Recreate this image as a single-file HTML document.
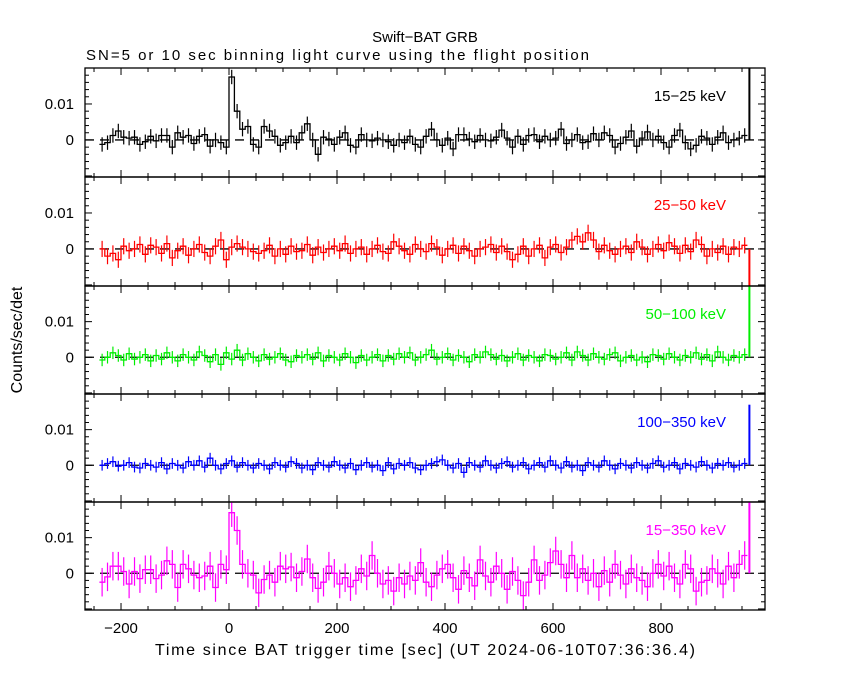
<!DOCTYPE html>
<html><head><meta charset="utf-8"><style>
body{margin:0;background:#fff;}
svg{display:block;font-family:"Liberation Sans",sans-serif;}
</style></head><body>
<svg id="c" width="850" height="680"></svg>
<script>
const tStart=-240, binW=10;
const unit=2.5e-4;
const xTicks=[-200,0,200,400,600,800];
const yTicks=[0,0.01];
const bandLabels=["15−25 keV","25−50 keV","50−100 keV","100−350 keV","15−350 keV"];
const bandColors=["#000000","#ff0000","#00ee00","#0000ff","#ff00ff"];
const rate1=[-5,-3,5,10,3,2,3,-5,-2,4,-1,5,5,-8,8,3,5,-4,4,6,-7,0,-3,-8,70,32,12,15,-5,-8,15,10,4,-6,-3,4,-3,8,18,0,-16,3,1,-5,3,8,-6,-8,6,0,-1,2,0,-2,-6,0,-3,4,-5,-8,4,12,0,-6,2,-10,6,6,1,-2,5,0,-1,3,11,2,-8,4,-5,5,6,-2,4,0,2,12,-4,0,6,-3,-2,7,0,8,5,-8,-4,3,10,-7,2,9,0,4,-3,-8,5,11,-3,-10,-6,4,2,-5,3,8,-3,0,2,5];
const rate2=[0,-8,-5,-12,3,-2,0,5,-6,4,2,-5,6,-10,-2,3,-7,0,5,-4,-8,3,10,-12,2,6,2,0,-3,-5,-2,4,-8,0,-6,3,-3,-2,5,-7,2,-4,0,3,-2,6,-5,0,2,-6,0,4,-3,-5,8,3,-2,-6,5,0,-3,6,2,-7,0,4,-5,3,-2,-8,0,2,5,-4,3,-3,-12,-6,3,-8,0,4,-10,2,5,-4,2,10,14,8,18,10,-3,4,-2,-6,0,3,-4,8,2,-6,0,5,-2,7,3,-5,4,-3,10,5,-8,0,-4,3,-6,2,0,4];
const rate3=[-3,0,5,2,-3,4,-2,0,3,-4,2,-2,5,0,-4,3,0,-3,6,2,-5,3,-8,5,-2,8,-3,4,0,-4,3,-2,0,4,-3,-5,2,0,3,-2,5,-4,2,0,-3,4,0,-6,2,-3,0,3,-4,2,-2,4,0,5,-3,0,3,8,-2,0,4,-3,2,0,-5,3,0,6,3,-2,2,-4,0,4,-3,2,0,-4,3,2,-2,0,5,-3,6,2,-3,4,0,-2,3,5,-4,0,2,-3,0,-5,3,2,-2,4,0,-3,2,0,5,-2,3,-4,6,0,-3,2,0,3];
const rate4=[0,2,4,-1,0,3,-2,-3,2,0,-2,3,-4,2,0,-3,4,0,5,-2,8,0,-4,2,5,-2,3,0,-3,2,0,-4,3,0,-2,4,2,-3,0,-5,3,0,-2,4,0,-3,2,-5,0,3,-2,0,-6,3,-4,2,0,3,-3,-5,0,2,4,6,0,-3,2,-8,3,0,-2,5,0,-3,2,4,-2,0,3,-4,0,3,-2,5,0,-3,4,-2,0,-6,3,0,-2,5,0,-4,2,0,-3,3,0,-3,2,5,-2,0,3,-4,2,0,-2,4,0,-3,2,0,3,-2,0,2];
const rate5=[-10,-4,8,8,2,-12,2,-6,4,4,-6,-2,14,10,-16,10,5,-2,-5,-3,8,-16,10,4,68,48,10,0,-2,-22,-7,-2,-10,8,5,7,-5,2,16,-5,-17,-10,8,0,-12,-5,-15,-8,5,-3,20,0,-12,-8,-20,-5,-12,-3,-8,12,-10,-15,-2,5,10,-5,-18,3,-5,-14,15,-3,-10,8,0,-18,2,-8,-25,-10,15,-8,-2,12,25,10,-5,20,-5,5,-8,0,-15,3,-10,10,-2,-12,5,-5,-8,-15,0,10,-3,8,-5,-12,10,5,-20,-10,-8,5,0,-12,8,-5,10,20];
const rates=[rate1,rate2,rate3,rate4,rate5];
const errs=[8,9,7,6,16];
const lastBin=[100,-60,100,68,100];
const NS="http://www.w3.org/2000/svg";
const svg=document.getElementById('c');
function mk(tag,attrs,parent){const e=document.createElementNS(NS,tag);for(const k in attrs)e.setAttribute(k,attrs[k]);(parent||svg).appendChild(e);return e;}
const X0=85,X1=765,tMin=-266.7,tMax=992.6;
const xs=t=>X0+(t-tMin)/(tMax-tMin)*(X1-X0);
const pTops=[68,177,286,394,502],pH=[109,109,108,108,108];
const yMax=0.02,yMin=-0.0103;
const defs=mk('defs',{});
pTops.forEach((top,p)=>{
  const h=pH[p];
  const ys=v=>top+(yMax-v)/(yMax-yMin)*h;
  const g=mk('g',{});
  
  
  const cp=mk('clipPath',{id:'cp'+p},defs);mk('rect',{x:X0,y:top,width:X1-X0,height:h},cp);
  const col=bandColors[p];
  const d=mk('g',{'clip-path':'url(#cp'+p+')'},g);
  const zl=mk('line',{x1:X0,x2:X1,y1:ys(0),y2:ys(0),stroke:'#000','stroke-width':1.3,'stroke-dasharray':'9,6'},d);
  
  
  let path='';
  rates[p].forEach((r,i)=>{
    const v=r*unit,t0=tStart+i*binW,t1=t0+binW,tc=t0+binW/2;
    const y=ys(v);
    path+=(i===0?'M':'L')+xs(t0).toFixed(1)+','+y.toFixed(1)+'L'+xs(t1).toFixed(1)+','+y.toFixed(1);
    const e=mk('line',{x1:xs(tc),x2:xs(tc),y1:ys(v+errs[p]*unit),y2:ys(v-errs[p]*unit),stroke:col,'stroke-width':1.2},d);
    
    
  });
  const n=rates[p].length;
  const tl=tStart+n*binW;
  const lb=mk('line',{x1:xs(tl)+2,x2:xs(tl)+2,y1:ys(0),y2:ys(lastBin[p]*unit),stroke:col,'stroke-width':2},d);
  
  
  const s=mk('path',{d:path,fill:'none',stroke:col,'stroke-width':1.3},d);
  
  
  mk('rect',{x:X0,y:top,width:X1-X0,height:h,fill:'none',stroke:'#000','stroke-width':1.3},g);
  for(let t=-250;t<=950;t+=50){
    const major=t%200===0;const L=major?7:4;
    mk('line',{x1:xs(t),x2:xs(t),y1:top,y2:top+L,stroke:'#000','stroke-width':1},g);
    mk('line',{x1:xs(t),x2:xs(t),y1:top+h,y2:top+h-L,stroke:'#000','stroke-width':1},g);
  }
  for(let k=-5;k<=10;k++){
    const v=k*0.002;if(v<yMin||v>yMax)continue;
    const major=k%5===0;const L=major?7:4;
    mk('line',{x1:X0,x2:X0+L,y1:ys(v),y2:ys(v),stroke:'#000','stroke-width':1},g);
    mk('line',{x1:X1,x2:X1-L,y1:ys(v),y2:ys(v),stroke:'#000','stroke-width':1},g);
  }
  yTicks.forEach(v=>{
    const tx=mk('text',{x:74,y:ys(v)+5,'text-anchor':'end','font-size':15,fill:'#000'},g);
    tx.textContent=v===0?'0':'0.01';
    
    
  });
  const lbl=mk('text',{x:726,y:top+33,'text-anchor':'end','font-size':15,fill:col},g);
  lbl.textContent=bandLabels[p];
  
  
});
xTicks.forEach(t=>{
  const tx=mk('text',{x:xs(t),y:633,'text-anchor':'middle','font-size':15,fill:'#000'});
  tx.textContent=t<0?'−'+(-t):String(t);
  
  
});
function txt(s,a,name){const t=mk('text',a);t.textContent=s;return t;}
txt('Swift−BAT GRB',{x:425,y:42,'text-anchor':'middle','font-size':15},'chart-title');
txt('SN=5 or 10 sec binning light curve using the flight position',{x:86,y:60,'font-size':15,textLength:503},'chart-subtitle');
txt('Time since BAT trigger time [sec] (UT 2024-06-10T07:36:36.4)',{x:425,y:655,'text-anchor':'middle','font-size':16,textLength:540},'x-axis-title');
txt('Counts/sec/det',{x:22,y:340,'text-anchor':'middle','font-size':16,transform:'rotate(-90 22 340)'},'y-axis-title');
</script>
</body></html>
